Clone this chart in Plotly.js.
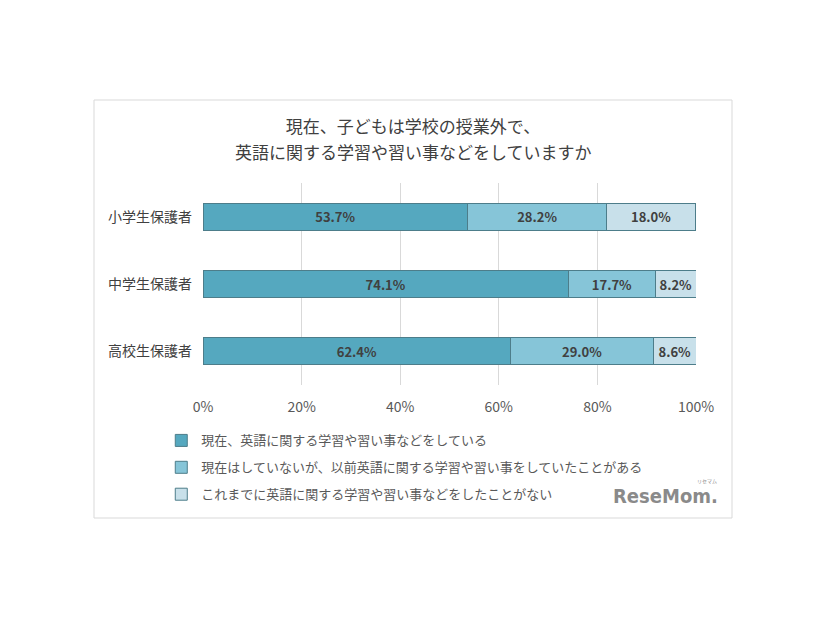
<!DOCTYPE html>
<html>
<head>
<meta charset="utf-8">
<script src="https://cdn.plot.ly/plotly-3.0.1.min.js"></script>
<style>html,body{margin:0;padding:0;background:#fff;}</style>
</head>
<body>
<div id="chart" style="width:826px;height:620px;"></div>
<script>
const categories = ['小学生保護者', '中学生保護者', '高校生保護者'];
const seriesNames = [
  '現在、英語に関する学習や習い事などをしている',
  '現在はしていないが、以前英語に関する学習や習い事をしていたことがある',
  'これまでに英語に関する学習や習い事などをしたことがない'
];
const titleLines = ['現在、子どもは学校の授業外で、', '英語に関する学習や習い事などをしていますか'];
const currentlyDoing = [53.7, 74.1, 62.4];
const previouslyDid = [28.2, 17.7, 29.0];
const neverDid = [18.0, 8.2, 8.6];
const xTickVals = [0, 20, 40, 60, 80, 100];
const xTickText = ['0%', '20%', '40%', '60%', '80%', '100%'];
const colors = ['#55a8bf', '#86c5d8', '#c8e0ea'];

const FONT = '"Noto Sans CJK JP", "Noto Sans", sans-serif';
const seriesData = [currentlyDoing, previouslyDid, neverDid];

const traces = seriesData.map((vals, i) => ({
  type: 'bar',
  orientation: 'h',
  name: seriesNames[i],
  legendgroup: 'g' + i,
  y: categories,
  x: vals,
  width: 0.4,
  marker: {color: colors[i], line: {color: '#4d7d8a', width: 1}},
  text: vals.map(v => v.toFixed(1) + '%'),
  textposition: 'inside',
  insidetextanchor: 'middle',
  constraintext: 'none',
  textfont: {family: FONT, size: 13, color: '#404040', weight: 'bold'},
  hoverinfo: 'none'
}));

const layout = {
  width: 826,
  height: 620,
  barmode: 'stack',
  paper_bgcolor: '#ffffff',
  plot_bgcolor: '#ffffff',
  margin: {l: 203, r: 130, t: 183, b: 235},
  font: {family: FONT, color: '#595959'},
  title: {
    text: titleLines[0],
    font: {family: FONT, size: 17, color: '#404040'},
    x: 0.5, xanchor: 'center', xref: 'container',
    y: 1 - 127 / 620, yanchor: 'middle', yref: 'container'
  },
  xaxis: {
    range: [0, 100],
    tickvals: xTickVals,
    ticktext: xTickText,
    showgrid: true,
    gridcolor: '#d9d9d9',
    gridwidth: 1,
    zeroline: false,
    showline: false,
    ticks: '',
    ticklabelstandoff: 12,
    tickfont: {family: FONT, size: 14, color: '#595959'},
    fixedrange: true
  },
  yaxis: {
    autorange: 'reversed',
    showgrid: false,
    zeroline: false,
    showline: false,
    ticks: '',
    ticklabelstandoff: 10,
    tickfont: {family: FONT, size: 14, color: '#404040'},
    fixedrange: true
  },
  showlegend: true,
  legend: {
    x: -0.04 - 22 / 493, xanchor: 'left', xref: 'paper',
    y: -0.23 + 6 / 202, yanchor: 'top', yref: 'paper',
    orientation: 'v',
    traceorder: 'grouped',
    font: {family: FONT, size: 13, color: '#595959'},
    itemwidth: 30,
    tracegroupgap: 7,
    bgcolor: 'rgba(0,0,0,0)'
  },
  shapes: [{
    type: 'rect', xref: 'paper', yref: 'paper',
    x0: (94 - 203) / 493, x1: (732 - 203) / 493,
    y0: (385 - 518) / 202, y1: (385 - 100) / 202,
    line: {color: '#d9d9d9', width: 1}, fillcolor: 'rgba(0,0,0,0)', layer: 'below'
  }],
  annotations: [{
    text: titleLines[1],
    xref: 'paper', yref: 'paper',
    x: (413 - 203) / 493, xanchor: 'center',
    y: (385 - 151) / 202, yanchor: 'middle',
    showarrow: false,
    font: {family: FONT, size: 17, color: '#404040'}
  }, {
    text: '<b>ReseMom.</b>',
    xref: 'paper', yref: 'paper',
    x: (720 - 203) / 493, xanchor: 'right',
    y: (385 - 496) / 202, yanchor: 'middle',
    showarrow: false,
    font: {family: '"DejaVu Sans Condensed", "Liberation Sans Narrow", sans-serif', size: 20, color: '#8a8a8a'}
  }, {
    text: 'リセマム',
    xref: 'paper', yref: 'paper',
    x: (707 - 203) / 493, xanchor: 'center',
    y: (385 - 481) / 202, yanchor: 'middle',
    showarrow: false,
    font: {family: FONT, size: 5, color: '#8a8a8a'}
  }]
};

Plotly.newPlot('chart', traces, layout, {displayModeBar: false, staticPlot: true});
</script>
</body>
</html>
